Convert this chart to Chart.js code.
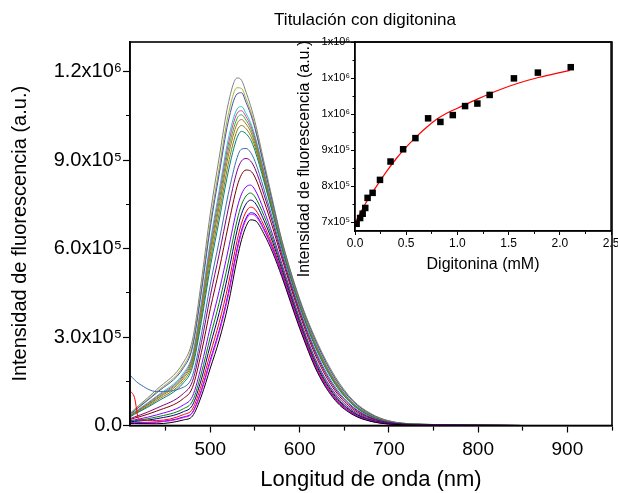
<!DOCTYPE html>
<html>
<head>
<meta charset="utf-8">
<script src="https://cdn.jsdelivr.net/npm/chart.js@4.4.1/dist/chart.umd.min.js"></script>
<style>
  html, body { margin: 0; padding: 0; background: #fff; overflow: hidden; }
  #page { position: relative; width: 618px; height: 493px; overflow: hidden; }
  #main-chart { position: absolute; left: 0; top: 0; }
  #inset-chart { position: absolute; left: 280px; top: 22px; }
</style>
</head>
<body>
<div id="page">
  <canvas id="main-chart" width="618" height="493"></canvas>
  <canvas id="inset-chart" width="345" height="268"></canvas>
</div>
<script>
const FONT = '"Liberation Sans", Arial, sans-serif';

// wavelength grid (nm) shared by every spectrum
const WAVELENGTHS = [410, 415, 420, 440, 470, 480, 490, 500, 510, 520, 530, 535, 540, 545, 550, 560, 570, 580, 600, 620, 640, 660, 680, 700, 730, 850];

// emission spectra, intensity in 1e5 a.u., from the lowest curve to the highest
const SPECTRA = [
  [0.07, 0.07, 0.065, 0.06, 0.19, 0.32, 1.0, 1.95, 2.9, 4.1, 5.65, 6.3, 6.75, 6.97, 6.95, 6.5, 5.85, 5.05, 3.3, 1.8, 0.85, 0.36, 0.14, 0.05, 0.015, 0],
  [0.08, 0.09, 0.09, 0.11, 0.27, 0.43, 1.16, 2.17, 3.16, 4.39, 5.92, 6.55, 6.97, 7.16, 7.12, 6.63, 5.95, 5.13, 3.36, 1.85, 0.89, 0.38, 0.15, 0.05, 0.02, 0],
  [0.09, 0.09, 0.1, 0.12, 0.29, 0.45, 1.2, 2.23, 3.23, 4.47, 6.0, 6.62, 7.03, 7.21, 7.17, 6.67, 5.98, 5.15, 3.37, 1.86, 0.9, 0.39, 0.15, 0.06, 0.02, 0],
  [1.18, 0.95, 0.2, 0.17, 0.37, 0.56, 1.37, 2.45, 3.5, 4.76, 6.27, 6.86, 7.24, 7.4, 7.33, 6.79, 6.07, 5.22, 3.43, 1.91, 0.93, 0.41, 0.16, 0.06, 0.02, 0],
  [0.12, 0.14, 0.15, 0.23, 0.47, 0.69, 1.57, 2.73, 3.83, 5.14, 6.62, 7.18, 7.51, 7.64, 7.55, 6.96, 6.2, 5.31, 3.5, 1.97, 0.98, 0.44, 0.18, 0.07, 0.02, 0],
  [0.14, 0.16, 0.18, 0.29, 0.57, 0.83, 1.78, 3.01, 4.17, 5.51, 6.96, 7.49, 7.78, 7.88, 7.75, 7.12, 6.32, 5.4, 3.57, 2.03, 1.02, 0.46, 0.19, 0.07, 0.02, 0],
  [0.16, 0.19, 0.22, 0.36, 0.7, 0.99, 2.03, 3.35, 4.57, 5.95, 7.37, 7.85, 8.09, 8.15, 7.99, 7.3, 6.45, 5.5, 3.64, 2.1, 1.08, 0.5, 0.21, 0.08, 0.02, 0],
  [0.2, 0.25, 0.29, 0.49, 0.92, 1.29, 2.48, 3.96, 5.3, 6.76, 8.11, 8.51, 8.66, 8.63, 8.42, 7.62, 6.69, 5.68, 3.78, 2.23, 1.17, 0.55, 0.24, 0.09, 0.03, 0],
  [0.23, 0.29, 0.34, 0.59, 1.09, 1.5, 2.81, 4.4, 5.82, 7.33, 8.63, 8.97, 9.05, 8.97, 8.71, 7.84, 6.85, 5.79, 3.87, 2.32, 1.24, 0.6, 0.26, 0.1, 0.03, 0],
  [1.71, 1.55, 1.42, 1.15, 1.3, 1.69, 3.09, 4.79, 6.27, 7.83, 9.08, 9.37, 9.39, 9.26, 8.96, 8.02, 6.98, 5.89, 3.94, 2.39, 1.3, 0.63, 0.28, 0.11, 0.03, 0],
  [0.29, 0.38, 0.46, 0.8, 1.45, 1.98, 3.53, 5.38, 6.97, 8.59, 9.76, 9.97, 9.89, 9.69, 9.32, 8.28, 7.16, 6.02, 4.05, 2.5, 1.39, 0.69, 0.31, 0.12, 0.04, 0],
  [0.3, 0.4, 0.48, 0.85, 1.53, 2.09, 3.68, 5.58, 7.21, 8.85, 10.0, 10.17, 10.06, 9.83, 9.45, 8.37, 7.22, 6.06, 4.08, 2.54, 1.42, 0.7, 0.32, 0.13, 0.04, 0],
  [0.32, 0.42, 0.51, 0.9, 1.61, 2.19, 3.84, 5.79, 7.45, 9.12, 10.23, 10.37, 10.22, 9.97, 9.56, 8.45, 7.28, 6.1, 4.12, 2.57, 1.45, 0.72, 0.33, 0.13, 0.04, 0],
  [0.33, 0.43, 0.52, 0.93, 1.67, 2.26, 3.95, 5.94, 7.63, 9.32, 10.41, 10.53, 10.35, 10.08, 9.66, 8.52, 7.33, 6.13, 4.14, 2.6, 1.47, 0.74, 0.34, 0.13, 0.04, 0],
  [0.34, 0.45, 0.54, 0.97, 1.72, 2.34, 4.07, 6.09, 7.81, 9.51, 10.58, 10.67, 10.47, 10.18, 9.74, 8.58, 7.37, 6.16, 4.17, 2.63, 1.5, 0.75, 0.35, 0.14, 0.04, 0],
  [0.35, 0.46, 0.56, 1.0, 1.78, 2.41, 4.17, 6.24, 7.98, 9.69, 10.73, 10.81, 10.58, 10.27, 9.82, 8.63, 7.4, 6.18, 4.18, 2.65, 1.52, 0.76, 0.35, 0.14, 0.04, 0],
  [0.38, 0.5, 0.62, 1.11, 1.96, 2.65, 4.53, 6.72, 8.54, 10.29, 11.24, 11.28, 10.95, 10.57, 10.07, 8.8, 7.51, 6.25, 4.25, 2.73, 1.58, 0.81, 0.38, 0.15, 0.05, 0],
  [0.39, 0.52, 0.64, 1.15, 2.03, 2.74, 4.67, 6.89, 8.74, 10.52, 11.45, 11.42, 11.08, 10.67, 10.16, 8.86, 7.55, 6.27, 4.27, 2.75, 1.61, 0.82, 0.39, 0.15, 0.05, 0],
  [0.41, 0.55, 0.68, 1.22, 2.15, 2.9, 4.9, 7.2, 9.1, 10.9, 11.78, 11.7, 11.3, 10.85, 10.3, 8.95, 7.6, 6.3, 4.3, 2.8, 1.65, 0.85, 0.4, 0.16, 0.05, 0]
];
const SPECTRA_COLORS = ['#000000', '#ff00ff', '#0000ff', '#ff0000', '#000080', '#008000', '#8000ff', '#800000', '#800080', '#3d6eb4',
  '#008080', '#808000', '#b06a1a', '#2db04a', '#e03c8c', '#1ec8d2', '#4b4bb4', '#a0b428', '#808080'];

const MAIN_X_TICKS = [450, 500, 550, 600, 650, 700, 750, 800, 850, 900, 950];
const MAIN_X_LABELS = ['', '500', '', '600', '', '700', '', '800', '', '900', ''];
const MAIN_Y_TICKS = [0, 1.5, 3, 4.5, 6, 7.5, 9, 10.5, 12];
const MAIN_Y_LABELS = ['0.0', '', '3.0x10\u2075', '', '6.0x10\u2075', '', '9.0x10\u2075', '', '1.2x10\u2076'];

// inset: peak intensity (1e5 a.u.) against digitonin (mM), with the fitted curve
const DIGITONIN_MM = [0.016, 0.05, 0.075, 0.10, 0.123, 0.172, 0.244, 0.347, 0.47, 0.59, 0.714, 0.834, 0.955, 1.075, 1.195, 1.315, 1.552, 1.786, 2.107];
const PEAK_INTENSITY = [6.95, 7.11, 7.23, 7.39, 7.67, 7.81, 8.17, 8.68, 9.02, 9.33, 9.88, 9.78, 9.97, 10.22, 10.29, 10.53, 10.99, 11.15, 11.30];
const FIT_MM = [0, 0.1, 0.2, 0.3, 0.4, 0.5, 0.6, 0.7, 0.8, 0.9, 1.0, 1.2, 1.4, 1.6, 1.8, 2.0, 2.1];
const FIT_INTENSITY = [6.97, 7.5, 7.95, 8.37, 8.75, 9.08, 9.37, 9.63, 9.86, 10.03, 10.16, 10.42, 10.66, 10.86, 11.02, 11.15, 11.21];

const INSET_X_TICKS = [0, 0.25, 0.5, 0.75, 1.0, 1.25, 1.5, 1.75, 2.0, 2.25, 2.5];
const INSET_X_LABELS = ['0.0', '', '0.5', '', '1.0', '', '1.5', '', '2.0', '', '2.5'];
const INSET_Y_TICKS = [7, 7.5, 8, 8.5, 9, 9.5, 10, 10.5, 11, 11.5, 12];
const INSET_Y_LABELS = ['7x10\u2075', '', '8x10\u2075', '', '9x10\u2075', '', '1x10\u2076', '', '1x10\u2076', '', '1x10\u2076'];

//box around the plot area
const frame_plugin = {
  id: 'frame',
  afterDatasetsDraw(chart, args, opts) {
    const {ctx, chartArea} = chart;
    ctx.save();
    ctx.strokeStyle = '#000';
    ctx.lineWidth = opts.width;
    ctx.strokeRect(chartArea.left, chartArea.top, chartArea.right - chartArea.left, chartArea.bottom - chartArea.top);
    ctx.restore();
  }
};

//free text (chart title, inset axis title)
const free_text_plugin = {
  id: 'free_text',
  afterDraw(chart, args, opts) {
    const ctx = chart.ctx;
    (opts.items || []).forEach(item => {
      ctx.save();
      ctx.translate(item.x, item.y);
      ctx.rotate(item.rotation || 0);
      ctx.font = item.size + 'px ' + FONT;
      ctx.fillStyle = '#000';
      ctx.textAlign = 'center';
      ctx.textBaseline = 'middle';
      ctx.fillText(item.text, 0, 0);
      ctx.restore();
    });
  }
};

//shorter tick marks for the unlabelled ticks
function minor_tick_dash(labels, major_len, minor_len, from_outer){
  return ctx => {
    if (labels[ctx.index] !== '') return [];
    return from_outer ? [0, major_len - minor_len, minor_len, 100] : [minor_len, 100];
  };
}

function fixed_ticks(values){
  return scale => { scale.ticks = values.map(v => ({value: v})); };
}

function draw_main_chart(){
  const datasets = SPECTRA.map((values, i) => ({
    data: WAVELENGTHS.map((w, j) => ({x: w, y: values[j]})),
    borderColor: SPECTRA_COLORS[i],
    borderWidth: 1,
    pointRadius: 0,
    cubicInterpolationMode: 'monotone',
    fill: false
  }));

  new Chart(document.getElementById('main-chart'), {
    type: 'line',
    data: {datasets: datasets},
    plugins: [frame_plugin, free_text_plugin],
    options: {
      responsive: false,
      animation: false,
      events: [],
      layout: {padding: {top: 42, right: 2, left: 0, bottom: 0}},
      plugins: {
        legend: {display: false},
        tooltip: {enabled: false},
        frame: {width: 1.6},
        free_text: {items: [{text: 'Titulación con digitonina', x: 365, y: 20, size: 17}]}
      },
      scales: {
        x: {
          type: 'linear', min: 410, max: 950,
          afterBuildTicks: fixed_ticks(MAIN_X_TICKS),
          afterFit: scale => { scale.height = 67.5; },
          border: {display: true, color: '#000', width: 1.6},
          grid: {drawOnChartArea: false, tickLength: 7, tickColor: '#000', tickWidth: 1.2,
                 tickBorderDash: minor_tick_dash(MAIN_X_LABELS, 7, 4, false)},
          ticks: {autoSkip: false, maxRotation: 0, padding: 6, color: '#000', font: {family: FONT, size: 19},
                  callback: (v, i) => MAIN_X_LABELS[i]},
          title: {display: true, text: 'Longitud de onda (nm)', color: '#000', font: {family: FONT, size: 22},
                  padding: {top: 0, bottom: 0}}
        },
        y: {
          type: 'linear', min: 0, max: 13,
          afterBuildTicks: fixed_ticks(MAIN_Y_TICKS),
          afterFit: scale => { scale.width = 130; },
          border: {display: true, color: '#000', width: 1.6},
          grid: {drawOnChartArea: false, tickLength: 7, tickColor: '#000', tickWidth: 1.2,
                 tickBorderDash: minor_tick_dash(MAIN_Y_LABELS, 7, 4, true)},
          ticks: {autoSkip: false, padding: 1, color: '#000', font: {family: FONT, size: 20},
                  callback: (v, i) => MAIN_Y_LABELS[i]},
          title: {display: true, text: 'Intensidad de fluorescencia (a.u.)', color: '#000', font: {family: FONT, size: 20},
                  padding: {top: 8, bottom: 0}}
        }
      }
    }
  });
}

function draw_inset_chart(){
  new Chart(document.getElementById('inset-chart'), {
    type: 'line',
    data: {
      datasets: [
        {
          data: DIGITONIN_MM.map((x, i) => ({x: x, y: PEAK_INTENSITY[i]})),
          showLine: false,
          pointStyle: 'rect',
          pointRadius: 4.6,
          pointBackgroundColor: '#000',
          pointBorderWidth: 0
        },
        {
          data: FIT_MM.map((x, i) => ({x: x, y: FIT_INTENSITY[i]})),
          borderColor: '#ff0000',
          borderWidth: 1.2,
          pointRadius: 0,
          cubicInterpolationMode: 'monotone',
          fill: false
        }
      ]
    },
    plugins: [frame_plugin, free_text_plugin],
    options: {
      responsive: false,
      animation: false,
      events: [],
      layout: {padding: {top: 20, right: 14, left: 0, bottom: 0}},
      plugins: {
        legend: {display: false},
        tooltip: {enabled: false},
        frame: {width: 1.4},
        free_text: {items: [{text: 'Intensidad de fluorescencia (a.u.)', x: 25, y: 137, size: 16, rotation: -Math.PI / 2}]}
      },
      scales: {
        x: {
          type: 'linear', min: 0, max: 2.5,
          afterBuildTicks: fixed_ticks(INSET_X_TICKS),
          afterFit: scale => { scale.height = 59; },
          border: {display: true, color: '#000', width: 1.4},
          grid: {drawOnChartArea: false, tickLength: 4, tickColor: '#000', tickWidth: 1,
                 tickBorderDash: minor_tick_dash(INSET_X_LABELS, 4, 2.5, false)},
          ticks: {autoSkip: false, maxRotation: 0, padding: 1, color: '#000', font: {family: FONT, size: 12},
                  callback: (v, i) => INSET_X_LABELS[i]},
          title: {display: true, text: 'Digitonina (mM)', color: '#000', font: {family: FONT, size: 16},
                  padding: {top: 0, bottom: 16}}
        },
        y: {
          type: 'linear', min: 6.75, max: 12,
          afterBuildTicks: fixed_ticks(INSET_Y_TICKS),
          afterFit: scale => { scale.width = 75; },
          border: {display: true, color: '#000', width: 1.4},
          grid: {drawOnChartArea: false, tickLength: 4, tickColor: '#000', tickWidth: 1,
                 tickBorderDash: minor_tick_dash(INSET_Y_LABELS, 4, 2.5, true)},
          ticks: {autoSkip: false, padding: 1, color: '#000', font: {family: FONT, size: 11},
                  callback: (v, i) => INSET_Y_LABELS[i]},
          title: {display: false}
        }
      }
    }
  });
}

draw_main_chart();
draw_inset_chart();
</script>
</body>
</html>
